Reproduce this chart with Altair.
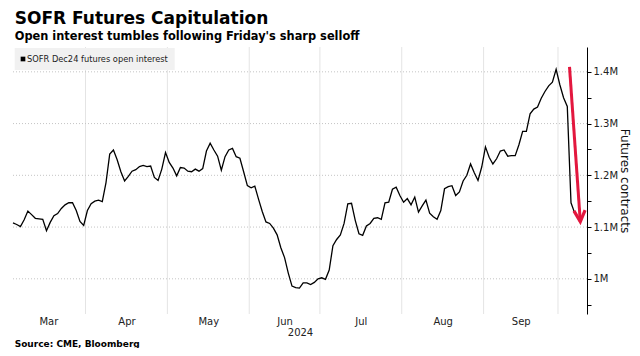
import altair as alt
import pandas as pd

# Open interest, thousands of contracts, one value per trading day (index 0 = 1 Mar 2024)
open_interest_k = [
    1108, 1105, 1101, 1114, 1131, 1124, 1117, 1116, 1115, 1093,
    1109, 1122, 1126, 1136, 1143, 1147, 1147, 1132, 1111, 1103,
    1132, 1145, 1150, 1152, 1149, 1186, 1241, 1249, 1230, 1207,
    1189, 1198, 1208, 1211, 1217, 1219, 1217, 1218, 1196, 1190,
    1212, 1244, 1225, 1214, 1199, 1215, 1214, 1208, 1207, 1212,
    1208, 1213, 1247, 1262, 1249, 1237, 1210, 1236, 1249, 1252,
    1236, 1233, 1207, 1180, 1176, 1179, 1154, 1130, 1110, 1107,
    1098, 1085, 1060, 1041, 1011, 986, 983, 982, 992, 992,
    989, 993, 1000, 1002, 999, 1017, 1064, 1076, 1085, 1107,
    1145, 1146, 1113, 1087, 1084, 1102, 1107, 1117, 1118, 1115,
    1147, 1148, 1173, 1177, 1161, 1148, 1155, 1143, 1158, 1129,
    1141, 1152, 1127, 1120, 1115, 1132, 1174, 1178, 1180, 1161,
    1168, 1189, 1200, 1222, 1205, 1190, 1216, 1255, 1235, 1222,
    1232, 1247, 1249, 1237, 1238, 1238, 1259, 1285, 1285, 1319,
    1328, 1332, 1349, 1362, 1373, 1380, 1405, 1375, 1350, 1333,
    1147, 1127,
]

month_names = ["Mar", "Apr", "May", "Jun", "Jul", "Aug", "Sep"]
month_mid = [9.5, 30.5, 52.5, 73, 93.5, 115.5, 136.5]
month_bounds = [19.5, 41.5, 63.5, 82.5, 104.5, 126.5, 146.5]
y_grid = [1000000, 1100000, 1200000, 1300000, 1400000]
y_ticks = [950000, 1000000, 1050000, 1100000, 1150000, 1200000, 1250000,
           1300000, 1350000, 1400000]
arrow_start = [149.6, 1409700]
arrow_end = [152.5, 1110600]

title = "SOFR Futures Capitulation"
subtitle = "Open interest tumbles following Friday's sharp selloff"
legend_label = "SOFR Dec24 futures open interest"
source = "Source: CME, Bloomberg"

RED = "#e3173e"
W, H = 574, 267

df = pd.DataFrame({"i": list(range(len(open_interest_k))),
                   "oi": [v * 1000 for v in open_interest_k]})

x_scale = alt.Scale(domain=[0, 154.3], nice=False, zero=False)
y_scale = alt.Scale(domain=[932000, 1448000], nice=False, zero=False)

label_expr = ""
for m, n in zip(month_mid, month_names):
    label_expr += f"datum.value == {m} ? '{n}' : "
label_expr += "''"

vgrid = alt.Chart(pd.DataFrame({"b": month_bounds})).mark_rule(
    color="#e4e4e4", strokeWidth=1
).encode(x=alt.X("b:Q", scale=x_scale, axis=None))

hgrid = alt.Chart(pd.DataFrame({"g": y_grid})).mark_rule(
    color="#c4c4c4", strokeWidth=1, strokeDash=[1, 2]
).encode(y=alt.Y("g:Q", scale=y_scale, axis=None))

legend_box = alt.Chart(pd.DataFrame({"a": [0]})).mark_rect(fill="#f1f1f1").encode(
    x=alt.value(1.7), x2=alt.value(161.7), y=alt.value(1), y2=alt.value(23)
)
legend_sq = alt.Chart(pd.DataFrame({"a": [0]})).mark_square(
    color="#000", size=22, opacity=1
).encode(x=alt.value(10), y=alt.value(12))
legend_txt = alt.Chart(pd.DataFrame({"a": [0]})).mark_text(
    text=legend_label, align="left", baseline="middle",
    font="DejaVu Sans Condensed, DejaVu Sans", fontSize=9.2, color="#222"
).encode(x=alt.value(14), y=alt.value(12))

line = alt.Chart(df).mark_line(color="#000", strokeWidth=1.3).encode(
    x=alt.X("i:Q", scale=x_scale,
            axis=alt.Axis(values=month_mid, labelExpr=label_expr, grid=False,
                          domain=False, ticks=False, tickSize=0, labelPadding=2,
                          labelOverlap=False, title="2024", titlePadding=1,
                          titleFontSize=10, titleFontWeight="normal",
                          titleColor="#222")),
    y=alt.Y("oi:Q", scale=y_scale,
            axis=alt.Axis(orient="right", values=y_ticks,
                          labelExpr="datum.value % 100000 == 0 ? (datum.value/1000000) + 'M' : ''",
                          grid=False, domain=True, domainColor="#000",
                          tickColor="#000", tickSize=4, labelPadding=2,
                          labelOverlap=False, title="Futures contracts",
                          titleFontSize=12, titleFontWeight="normal",
                          titleColor="#111", titleX=37, titleY=H / 2,
                          titleAngle=90, titleAlign="center",
                          titleBaseline="middle")),
)

arrow_df = pd.DataFrame({"x": [arrow_start[0]], "y": [arrow_start[1]],
                         "x2": [arrow_end[0]], "y2": [arrow_end[1]]})
shaft = alt.Chart(arrow_df).mark_rule(color=RED, strokeWidth=3).encode(
    x=alt.X("x:Q", scale=x_scale, axis=None),
    y=alt.Y("y:Q", scale=y_scale, axis=None),
    x2="x2:Q", y2="y2:Q",
)
head = alt.Chart(arrow_df).mark_point(
    shape="M -0.5 -1 L 0 0 L 0.5 -1", filled=False, stroke=RED,
    strokeWidth=3.2, size=500, angle=356, opacity=1, strokeJoin="miter"
).encode(
    x=alt.X("x2:Q", scale=x_scale, axis=None),
    y=alt.Y("y2:Q", scale=y_scale, axis=None),
)

def text_layer(txt, x, y, size, weight="normal", color="#000"):
    return alt.Chart(pd.DataFrame({"a": [0]})).mark_text(
        text=txt, align="left", baseline="alphabetic", font="DejaVu Sans",
        fontSize=size, fontWeight=weight, color=color
    ).encode(x=alt.value(x), y=alt.value(y))

t1 = text_layer(title, 1.7, -23, 17, "bold")
t2 = text_layer(subtitle, 1.7, -7, 11.4, "bold")
t3 = text_layer(source, 1.7, 300, 9, "bold")

chart = alt.layer(
    vgrid, hgrid, legend_box, legend_sq, legend_txt, line, shaft, head, t1, t2, t3
).resolve_axis(
    x="independent", y="independent"
).properties(
    width=W, height=H,
    autosize=alt.AutoSizeParams(type="none"),
    padding={"left": 5, "top": 39, "right": 45, "bottom": 34},
    background="white",
).configure_view(stroke=None).configure_axis(
    labelFont="DejaVu Sans", labelFontSize=10, labelColor="#222",
    titleFont="DejaVu Sans"
)

chart.save("out.html", embed_options={"renderer": "svg", "actions": False})
